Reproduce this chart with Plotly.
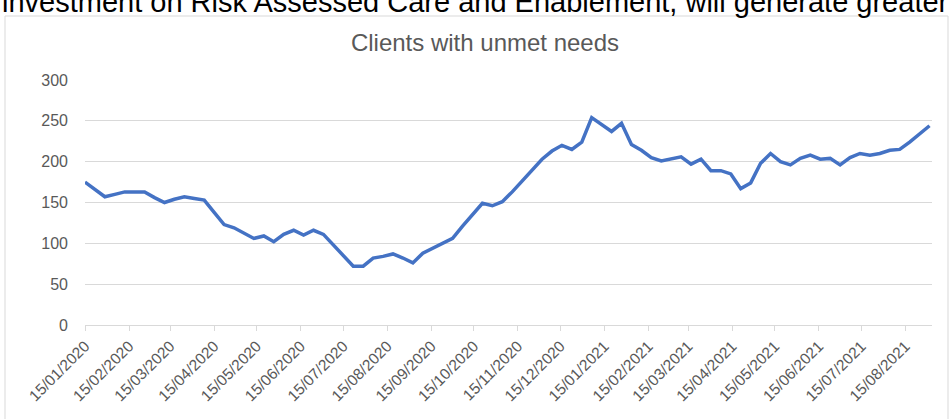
import plotly.graph_objects as go

dates = [
    "2020-01-15", "2020-01-22", "2020-01-29", "2020-02-05", "2020-02-12", "2020-02-19", "2020-02-26",
    "2020-03-04", "2020-03-11", "2020-03-18", "2020-03-25", "2020-04-01", "2020-04-08", "2020-04-15",
    "2020-04-22", "2020-04-29", "2020-05-06", "2020-05-13", "2020-05-20", "2020-05-27", "2020-06-03",
    "2020-06-10", "2020-06-17", "2020-06-24", "2020-07-01", "2020-07-08", "2020-07-15", "2020-07-22",
    "2020-07-29", "2020-08-05", "2020-08-12", "2020-08-19", "2020-08-26", "2020-09-02", "2020-09-09",
    "2020-09-16", "2020-09-23", "2020-09-30", "2020-10-07", "2020-10-14", "2020-10-21", "2020-10-28",
    "2020-11-04", "2020-11-11", "2020-11-18", "2020-11-25", "2020-12-02", "2020-12-09", "2020-12-16",
    "2020-12-23", "2020-12-30", "2021-01-06", "2021-01-13", "2021-01-20", "2021-01-27", "2021-02-03",
    "2021-02-10", "2021-02-17", "2021-02-24", "2021-03-03", "2021-03-10", "2021-03-17", "2021-03-24",
    "2021-03-31", "2021-04-07", "2021-04-14", "2021-04-21", "2021-04-28", "2021-05-05", "2021-05-12",
    "2021-05-19", "2021-05-26", "2021-06-02", "2021-06-09", "2021-06-16", "2021-06-23", "2021-06-30",
    "2021-07-07", "2021-07-14", "2021-07-21", "2021-07-28", "2021-08-04", "2021-08-11", "2021-08-18",
    "2021-08-25", "2021-09-01",
]

clients = [
    175, 166, 157, 160, 163, 163, 163, 156, 150, 154, 157, 155, 153, 138,
    123, 119, 113, 106, 109, 102, 111, 116, 110, 116, 111, 98, 84, 72,
    72, 82, 84, 87, 82, 76, 88, 94, 100, 106, 121, 135, 149, 146,
    151, 163, 176, 189, 203, 213, 220, 215, 224, 254, 245, 237, 247, 221,
    214, 205, 201, 203, 206, 197, 203, 189, 189, 185, 167, 174, 198, 210,
    200, 196, 204, 208, 203, 204, 196, 205, 210, 208, 210, 214, 215, 224,
    234, 244,
]

tick_dates = [
    "2020-01-15", "2020-02-15", "2020-03-15", "2020-04-15", "2020-05-15", "2020-06-15",
    "2020-07-15", "2020-08-15", "2020-09-15", "2020-10-15", "2020-11-15", "2020-12-15",
    "2021-01-15", "2021-02-15", "2021-03-15", "2021-04-15", "2021-05-15", "2021-06-15",
    "2021-07-15", "2021-08-15",
]
tick_labels = [
    "15/01/2020", "15/02/2020", "15/03/2020", "15/04/2020", "15/05/2020", "15/06/2020",
    "15/07/2020", "15/08/2020", "15/09/2020", "15/10/2020", "15/11/2020", "15/12/2020",
    "15/01/2021", "15/02/2021", "15/03/2021", "15/04/2021", "15/05/2021", "15/06/2021",
    "15/07/2021", "15/08/2021",
]

chart_title = "Clients with unmet needs"
page_text = "investment on Risk Assessed Care and Enablement, will generate greater"

FONT = "Liberation Sans"
GREY = "#595959"
GRID = "#d9d9d9"

W, H = 952, 419
L, R, T, B = 85, 932, 80, 325  # plot area in pixels


def px(x):
    return (x - L) / (R - L)


def py(y):
    return (B - y) / (B - T)


fig = go.Figure()
fig.add_trace(go.Scatter(
    x=dates, y=clients, mode="lines",
    line=dict(color="#4472C4", width=3.5),
    hoverinfo="x+y",
))

fig.update_layout(
    width=W, height=H,
    margin=dict(l=L, r=W - R, t=T, b=H - B, autoexpand=False),
    paper_bgcolor="white", plot_bgcolor="white",
    showlegend=False,
    font=dict(family=FONT, color=GREY, size=16),
    title=dict(
        text=chart_title, x=485 / W, xanchor="center",
        y=1 - 43 / H, yanchor="middle",
        font=dict(family=FONT, size=24, color=GREY),
    ),
    xaxis=dict(
        type="date",
        range=["2020-01-15", "2021-09-02 18:00"],
        tickvals=tick_dates, ticktext=tick_labels,
        tickangle=-45,
        ticks="outside", ticklen=5, tickcolor=GRID,
        showline=True, linecolor=GRID, linewidth=1,
        showgrid=False, zeroline=False,
        tickfont=dict(family=FONT, size=15.5, color=GREY),
    ),
    yaxis=dict(
        range=[0, 300], tickvals=[0, 50, 100, 150, 200, 250, 300],
        showgrid=True, gridcolor=GRID, gridwidth=1,
        zeroline=False, showline=False,
        ticks="", ticklabelstandoff=16,
        tickfont=dict(family=FONT, size=16, color=GREY),
    ),
    shapes=[dict(
        type="rect", xref="paper", yref="paper",
        x0=px(5), x1=px(948), y0=py(430), y1=py(16),
        line=dict(color=GRID, width=1), fillcolor="rgba(0,0,0,0)", layer="below",
    )],
    annotations=[dict(
        text=page_text, xref="paper", yref="paper",
        x=px(0), y=py(20), xanchor="left", yanchor="bottom",
        showarrow=False,
        font=dict(family=FONT, size=29, color="#000000"),
    )],
)

fig.write_html(
    "out.html",
    config={"displayModeBar": False},
    post_script="document.body.style.margin='0';document.body.style.overflow='hidden';",
)
